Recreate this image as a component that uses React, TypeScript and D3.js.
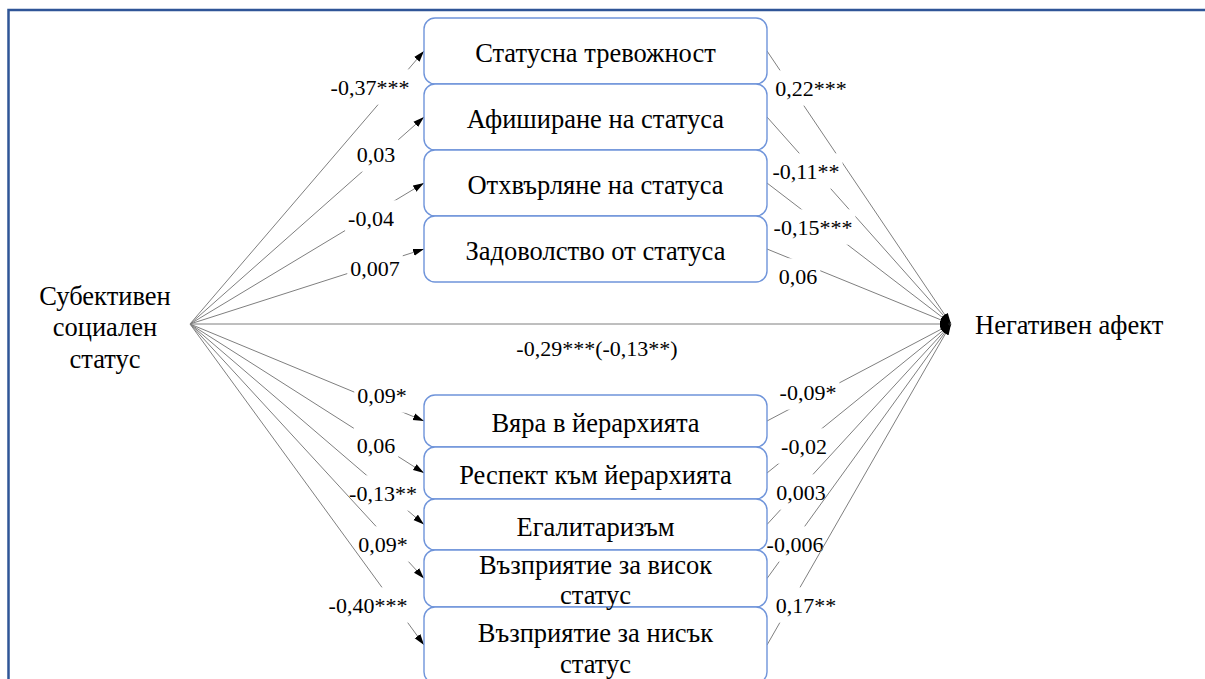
import React from "react";
import * as d3 from "d3";

// node labels
const sourceLabel = ["Субективен", "социален", "статус"];
const targetLabel = "Негативен афект";

// mediators above the direct path
const topMediators = [
  ["Статусна тревожност"],
  ["Афиширане на статуса"],
  ["Отхвърляне на статуса"],
  ["Задоволство от статуса"],
];
const topPathsA = ["-0,37***", "0,03", "-0,04", "0,007"];
const topPathsB = ["0,22***", "-0,11**", "-0,15***", "0,06"];

// mediators below the direct path
const bottomMediators = [
  ["Вяра в йерархията"],
  ["Респект към йерархията"],
  ["Егалитаризъм"],
  ["Възприятие за висок", "статус"],
  ["Възприятие за нисък", "статус"],
];
const bottomPathsA = ["0,09*", "0,06", "-0,13**", "0,09*", "-0,40***"];
const bottomPathsB = ["-0,09*", "-0,02", "0,003", "-0,006", "0,17**"];

const directPath = "-0,29***(-0,13**)";

// layout
const W = 1205;
const H = 679;
const SOURCE: [number, number] = [190, 324];
const TARGET: [number, number] = [951, 324];
const BOX_X0 = 424;
const BOX_X1 = 767;
const TOP_Y0 = 18;
const TOP_ROW = 66;
const BOTTOM_Y0 = 395;
const BOTTOM_ROWS = [52, 52, 51, 57, 76];
// text nudges inside the lower boxes (shift of text centre, line height)
const BOTTOM_TEXT_SHIFT = [2, 2, 2, 1.5, 3.5];
const BOTTOM_LINE_H = [30, 30, 30, 30, 31];

// where the coefficient labels sit
const topLabelA: [number, number][] = [[370, 87], [376, 154], [371, 218], [375, 268]];
const topLabelB: [number, number][] = [[811, 88], [806, 171], [813, 227], [798, 276]];
const bottomLabelA: [number, number][] = [[382, 395], [376, 445], [383, 493], [383, 544], [368, 605]];
const bottomLabelB: [number, number][] = [[808, 392], [804, 446], [801, 492], [795, 544], [806, 605]];
const directLabelPos: [number, number] = [597, 348];

const FONT = "Liberation Serif";
const NODE_SIZE = 26.5;
const COEF_SIZE = 22;
const LINE_COLOR = "#7f7f7f";
const BOX_COLOR = "#6f94da";

let ctx: CanvasRenderingContext2D | null = null;
const textWidth = (txt: string, size: number) => {
  if (!ctx) ctx = document.createElement("canvas").getContext("2d");
  if (!ctx) return txt.length * size * 0.5;
  ctx.font = `${size}px "${FONT}"`;
  return ctx.measureText(txt).width;
};

const topBand = d3.scaleBand<number>()
  .domain(d3.range(topMediators.length))
  .range([TOP_Y0, TOP_Y0 + TOP_ROW * topMediators.length]);
const bottomEdges = [BOTTOM_Y0, ...Array.from(d3.cumsum(BOTTOM_ROWS), (d) => BOTTOM_Y0 + d)];

const boxes = [
  ...topMediators.map((lines, i) => ({
    lines,
    y0: topBand(i) as number,
    y1: (topBand(i) as number) + topBand.bandwidth(),
    shift: 2,
    lh: 30,
    a: topPathsA[i],
    b: topPathsB[i],
    la: topLabelA[i],
    lb: topLabelB[i],
  })),
  ...bottomMediators.map((lines, i) => ({
    lines,
    y0: bottomEdges[i],
    y1: bottomEdges[i + 1],
    shift: BOTTOM_TEXT_SHIFT[i],
    lh: BOTTOM_LINE_H[i],
    a: bottomPathsA[i],
    b: bottomPathsB[i],
    la: bottomLabelA[i],
    lb: bottomLabelB[i],
  })),
];

const line = d3.line();

const CoefLabel = ({ txt, pos }: { txt: string; pos: [number, number] }) => {
  const w = textWidth(txt, COEF_SIZE);
  const h = COEF_SIZE * 1.15;
  return (
    <g>
      <rect x={pos[0] - w / 2 - 3} y={pos[1] - h / 2 - 5} width={w + 6} height={h + 10} fill="#fff" />
      <text
        x={pos[0]}
        y={pos[1]}
        textAnchor="middle"
        dominantBaseline="central"
        fontFamily={FONT}
        fontSize={COEF_SIZE}
        fill="#000"
      >
        {txt}
      </text>
    </g>
  );
};

const Edge = ({ from, to, txt, pos }: { from: [number, number]; to: [number, number]; txt: string; pos: [number, number] }) => (
  <g>
    <path d={line([from, to]) ?? ""} stroke={LINE_COLOR} strokeWidth={1} fill="none" markerEnd="url(#arrow)" />
    <CoefLabel txt={txt} pos={pos} />
  </g>
);

export default function App() {
  return (
    <div style={{ position: "absolute", left: 0, top: 0, width: W, height: H, overflow: "hidden" }}>
      <svg width={W} height={H}>
        <rect width={W} height={H} fill="#fff" />
        <defs>
          <marker id="arrow" markerUnits="userSpaceOnUse" markerWidth={11} markerHeight={8} refX={11} refY={4} orient="auto">
            <path d="M0,0.5 L11,4 L0,7.5 Z" fill="#000" />
          </marker>
        </defs>

        {/* outer frame, only top and left edges in view */}
        <rect x={8.5} y={10} width={W + 50} height={H + 50} fill="none" stroke="#2f5597" strokeWidth={2.5} />

        {/* direct path */}
        <Edge from={SOURCE} to={TARGET} txt={directPath} pos={directLabelPos} />

        {/* a paths */}
        {boxes.map((bx, i) => (
          <Edge key={`a${i}`} from={SOURCE} to={[BOX_X0, (bx.y0 + bx.y1) / 2]} txt={bx.a} pos={bx.la} />
        ))}

        {/* b paths */}
        {boxes.map((bx, i) => (
          <Edge key={`b${i}`} from={[BOX_X1, (bx.y0 + bx.y1) / 2]} to={TARGET} txt={bx.b} pos={bx.lb} />
        ))}

        {/* mediator boxes */}
        {boxes.map((bx, i) => (
          <rect
            key={`r${i}`}
            x={BOX_X0}
            y={bx.y0}
            width={BOX_X1 - BOX_X0}
            height={bx.y1 - bx.y0}
            rx={11}
            fill="#fff"
            stroke={BOX_COLOR}
            strokeWidth={1.4}
          />
        ))}
        {boxes.map((bx, i) => {
          const cy = (bx.y0 + bx.y1) / 2 + bx.shift;
          return (
            <text key={`t${i}`} textAnchor="middle" fontFamily={FONT} fontSize={NODE_SIZE} fill="#000">
              {bx.lines.map((ln, k) => (
                <tspan
                  key={k}
                  x={(BOX_X0 + BOX_X1) / 2}
                  y={cy + (k - (bx.lines.length - 1) / 2) * bx.lh}
                  dominantBaseline="central"
                >
                  {ln}
                </tspan>
              ))}
            </text>
          );
        })}

        {/* source */}
        <text textAnchor="middle" fontFamily={FONT} fontSize={NODE_SIZE} fill="#000">
          {sourceLabel.map((ln, k) => (
            <tspan key={k} x={105} y={327 + (k - 1) * 31.5} dominantBaseline="central">
              {ln}
            </tspan>
          ))}
        </text>

        {/* target */}
        <text x={975} y={325} dominantBaseline="central" fontFamily={FONT} fontSize={NODE_SIZE} fill="#000">
          {targetLabel}
        </text>
      </svg>
    </div>
  );
}
